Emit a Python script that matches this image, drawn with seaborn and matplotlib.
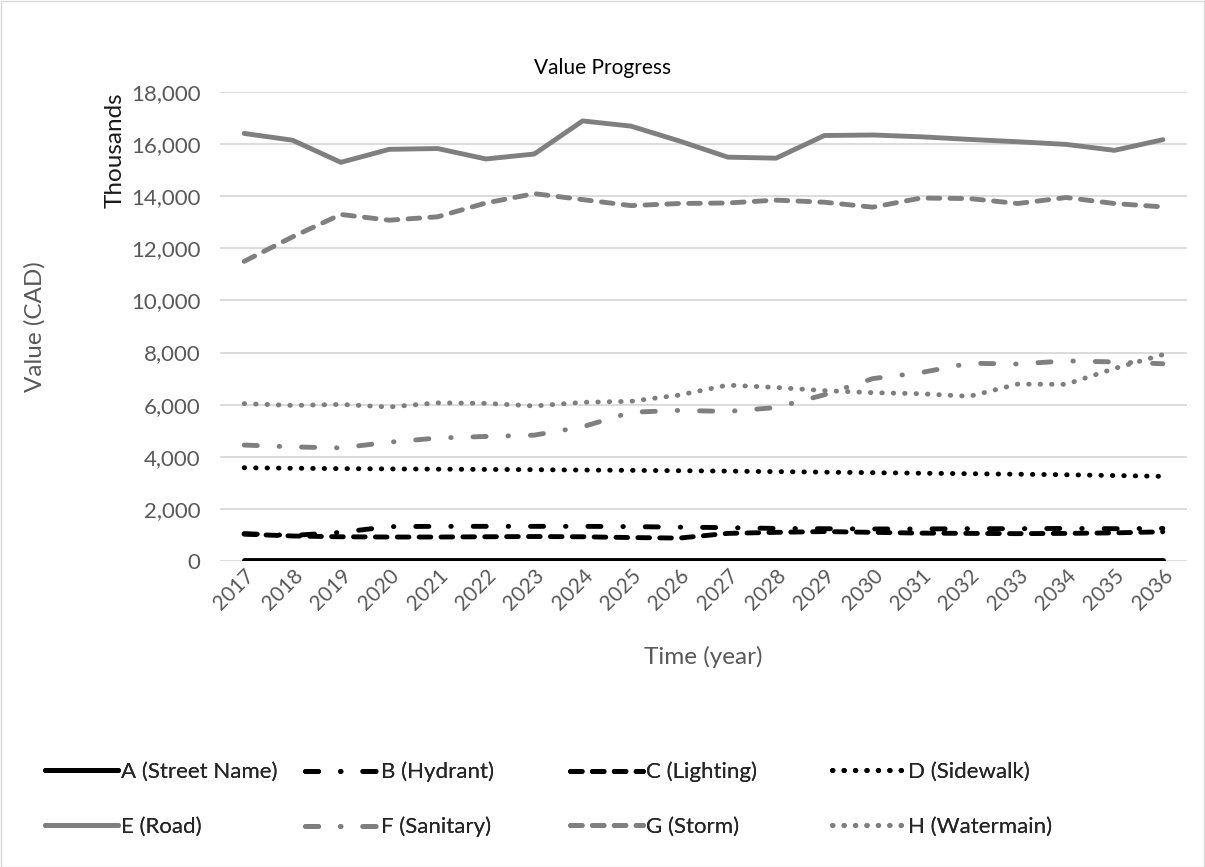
import pandas as pd
import seaborn as sns
import matplotlib.pyplot as plt
import matplotlib.transforms as mtrans
from matplotlib.lines import Line2D
from matplotlib.patches import Rectangle

# ---- data (values in thousands of CAD) ----
years = [2017, 2018, 2019, 2020, 2021, 2022, 2023, 2024, 2025, 2026,
         2027, 2028, 2029, 2030, 2031, 2032, 2033, 2034, 2035, 2036]

street_name = [30, 30, 30, 30, 30, 30, 30, 30, 30, 30,
               30, 30, 30, 30, 30, 30, 30, 30, 30, 30]
hydrant = [1050, 980, 1100, 1320, 1330, 1330, 1330, 1330, 1320, 1300,
           1280, 1250, 1240, 1230, 1230, 1240, 1240, 1250, 1240, 1250]
lighting = [1030, 960, 930, 920, 920, 930, 940, 930, 900, 880,
            1060, 1100, 1130, 1100, 1070, 1060, 1050, 1060, 1080, 1120]
sidewalk = [3580, 3560, 3545, 3535, 3525, 3515, 3505, 3490, 3480, 3465,
            3450, 3430, 3410, 3390, 3370, 3350, 3330, 3310, 3280, 3250]
road = [16410, 16150, 15300, 15800, 15830, 15430, 15620, 16890, 16690, 16120,
        15500, 15460, 16330, 16350, 16280, 16180, 16090, 15990, 15760, 16170]
sanitary = [4450, 4380, 4340, 4560, 4720, 4780, 4830, 5150, 5710, 5780,
            5740, 5890, 6380, 7000, 7230, 7590, 7560, 7680, 7640, 7570]
storm = [11500, 12440, 13300, 13080, 13210, 13740, 14100, 13870, 13640, 13720,
         13740, 13850, 13770, 13580, 13930, 13910, 13720, 13950, 13720, 13590]
watermain = [6040, 5970, 6010, 5910, 6070, 6050, 5950, 6090, 6130, 6370,
             6750, 6660, 6540, 6460, 6420, 6320, 6790, 6780, 7390, 7920]

series_names = ["A (Street Name)", "B (Hydrant)", "C (Lighting)", "D (Sidewalk)",
                "E (Road)", "F (Sanitary)", "G (Storm)", "H (Watermain)"]
series_values = [street_name, hydrant, lighting, sidewalk,
                 road, sanitary, storm, watermain]

y_ticks = [0, 2000, 4000, 6000, 8000, 10000, 12000, 14000, 16000, 18000]

# ---- styles ----
BLACK = "#000000"
GREY = "#7F7F7F"
palette = dict(zip(series_names, [BLACK, BLACK, BLACK, BLACK, GREY, GREY, GREY, GREY]))
long_dash_dot = (2.7, 4.5, 0.1, 4.5)
dash = (2.4, 2.1)
round_dot = (0.1, 2.25)
dashes = dict(zip(series_names, ["", long_dash_dot, dash, round_dot,
                                 "", long_dash_dot, dash, round_dot]))

df = pd.DataFrame({
    "Year": years * len(series_names),
    "Value": [v for vals in series_values for v in vals],
    "Series": [n for n in series_names for _ in years],
})

sns.set_theme(style="white")
plt.rcParams["font.family"] = ["Lato", "DejaVu Sans"]

W, H = 1205, 867
fig = plt.figure(figsize=(W / 100, H / 100), dpi=100)
left, right, top, bottom = 220, 1187, 92, 561
ax = fig.add_axes([left / W, 1 - bottom / H, (right - left) / W, (bottom - top) / H])

LW = 3.5
XTICK_FS = 15
YTICK_FS = 16
LABEL_FS = 17.5
LEG_FS = 16

sns.lineplot(data=df, x="Year", y="Value", hue="Series", style="Series",
             palette=palette, dashes=dashes, hue_order=series_names,
             style_order=series_names, linewidth=LW, legend=False, ax=ax,
             dash_capstyle="round", solid_capstyle="round",
             dash_joinstyle="round", solid_joinstyle="round", zorder=3)

ax.set_xlim(years[0] - 0.5, years[-1] + 0.5)
ax.set_ylim(0, 18000)
ax.set_yticks(y_ticks)
ax.set_yticklabels([f"{t:,}" for t in y_ticks])
ax.set_xticks(years)
ax.set_xticklabels([str(y) for y in years])
ax.grid(axis="y", color="#D9D9D9", linewidth=1.3, zorder=0)
ax.grid(axis="x", visible=False)
for s in ax.spines.values():
    s.set_visible(False)
ax.tick_params(axis="both", length=0, labelcolor="#595959")
ax.tick_params(axis="y", pad=14, labelsize=YTICK_FS)
ax.tick_params(axis="x", pad=8, labelsize=XTICK_FS)
offset = mtrans.ScaledTranslation(7 / 100, 0, fig.dpi_scale_trans)
for lbl in ax.get_xticklabels():
    lbl.set_rotation(45)
    lbl.set_rotation_mode("anchor")
    lbl.set_ha("right")
    lbl.set_va("center")
    lbl.set_transform(lbl.get_transform() + offset)

ax.set_xlabel("")
ax.set_ylabel("")

fig.text(603 / W, 1 - 68 / H, "Value Progress", ha="center", va="center",
         fontsize=15, color="#000000")
fig.text(35 / W, 1 - 327 / H, "Value (CAD)", rotation=90, ha="center",
         va="center", fontsize=LABEL_FS, color="#595959")
fig.text(115 / W, 1 - top / H, "Thousands", rotation=90, ha="center",
         va="top", fontsize=LABEL_FS, color="#1A1A1A")
fig.text(703 / W, 1 - 657 / H, "Time (year)", ha="center", va="center",
         fontsize=LABEL_FS, color="#595959")

# legend: one entry per slot on a 4 x 2 grid
col_x = [45, 305, 570, 832]
row_y = [772, 827]
for i, line in enumerate(ax.get_lines()[:len(series_names)]):
    handle = Line2D([], [], color=line.get_color(), linewidth=LW,
                    dash_capstyle="round", solid_capstyle="round")
    if isinstance(dashes[series_names[i]], tuple):
        handle.set_dashes(dashes[series_names[i]])
    leg = fig.legend([handle], [series_names[i]], loc="center left",
                     bbox_to_anchor=(col_x[i % 4] / W, 1 - row_y[i // 4] / H),
                     frameon=False, fontsize=LEG_FS, handlelength=73 / (LEG_FS * 100 / 72),
                     handletextpad=0.15, borderpad=0, borderaxespad=0)
    fig.add_artist(leg)

fig.patches.append(Rectangle((0.5 / W, 0.5 / H), 1 - 1.5 / W, 1 - 1.5 / H,
                             transform=fig.transFigure, fill=False,
                             edgecolor="#D9D9D9", linewidth=1.0))

fig.savefig("out.png", dpi=100)
